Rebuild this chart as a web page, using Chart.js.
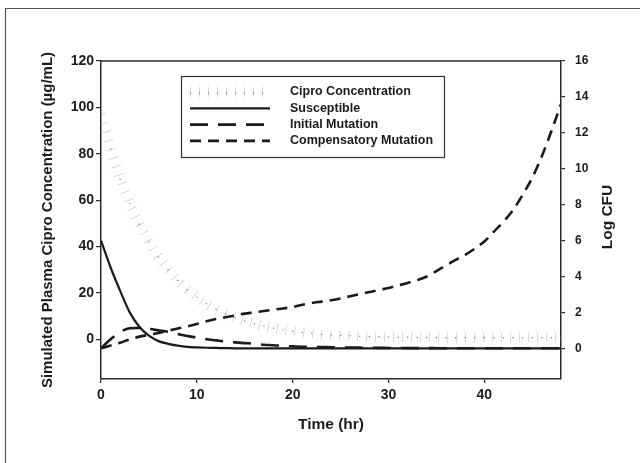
<!DOCTYPE html>
<html>
<head>
<meta charset="utf-8">
<script src="https://cdn.jsdelivr.net/npm/chart.js@4.4.1/dist/chart.umd.min.js"></script>
<style>
  html, body { margin: 0; padding: 0; background: #fff; }
  #wrap { width: 640px; height: 463px; }
</style>
</head>
<body>
<div id="wrap"><canvas id="chart" width="640" height="463"></canvas></div>
<script>
// time points (hr)
const hours = [
  0, 1, 2, 3, 4, 5, 6, 7, 8, 9,
  10, 11, 12, 13, 14, 15, 16, 17, 18, 19,
  20, 21, 22, 23, 24, 25, 26, 27, 28, 29,
  30, 31, 32, 33, 34, 35, 36, 37, 38, 39,
  40, 41, 42, 43, 44, 45, 46, 47, 48
];

// plasma cipro concentration (ug/mL), left axis
const cipro = [
  97, 82, 69, 58.6, 49.6, 42, 35.5, 30, 25.4, 21.5,
  18.2, 15.4, 13, 11, 9.3, 7.9, 6.7, 5.7, 4.8, 4.1,
  3.5, 3, 2.6, 2.2, 1.9, 1.7, 1.5, 1.3, 1.2, 1.1,
  1, 0.9, 0.9, 0.8, 0.8, 0.8, 0.7, 0.7, 0.7, 0.7,
  0.7, 0.7, 0.7, 0.7, 0.7, 0.7, 0.7, 0.7, 0.7
];

// log CFU, right axis
const susceptible = [
  6, 4.5, 3.2, 2.0, 1.2, 0.7, 0.4, 0.25, 0.15, 0.08,
  0.05, 0.03, 0.02, 0.01, 0, 0, 0, 0, 0, 0,
  0, 0, 0, 0, 0, 0, 0, 0, 0, 0,
  0, 0, 0, 0, 0, 0, 0, 0, 0, 0,
  0, 0, 0, 0, 0, 0, 0, 0, 0
];
const initialMutation = [
  0, 0.5, 0.9, 1.12, 1.14, 1.08, 1.0, 0.92, 0.8, 0.68,
  0.6, 0.5, 0.44, 0.38, 0.33, 0.29, 0.25, 0.2, 0.17, 0.13,
  0.11, 0.09, 0.08, 0.07, 0.06, 0.05, 0.04, 0.035, 0.03, 0.025,
  0.02, 0.015, 0.01, 0.01, 0.01, 0.005, 0, 0, 0, 0,
  0, 0, 0, 0, 0, 0, 0, 0, 0
];
const compensatoryMutation = [
  0, 0.15, 0.31, 0.5, 0.65, 0.75, 0.85, 0.98, 1.1, 1.22,
  1.35, 1.5, 1.63, 1.73, 1.83, 1.93, 2.0, 2.08, 2.15, 2.22,
  2.3, 2.42, 2.52, 2.6, 2.68, 2.78, 2.9, 3.02, 3.13, 3.25,
  3.36, 3.5, 3.64, 3.8, 4.0, 4.3, 4.62, 4.92, 5.2, 5.55,
  5.95, 6.5, 7.05, 7.7, 8.55, 9.5, 10.7, 12.1, 13.6
];

// tick labels
const xTicks = [0, 10, 20, 30, 40];
const leftTicks = [0, 20, 40, 60, 80, 100, 120];
const rightTicks = [0, 2, 4, 6, 8, 10, 12, 14, 16];

const seriesNames = ['Cipro Concentration', 'Susceptible', 'Initial Mutation', 'Compensatory Mutation'];
const leftTitle = 'Simulated Plasma Cipro Concentration (\u00b5g/mL)';
const rightTitle = 'Log CFU';
const xTitle = 'Time (hr)';

const INK = '#1b1b1b';
const AXIS = '#2a2a2a';
const FONT = "'Liberation Sans', Arial, sans-serif";

function pts(ys) {
  return hours.map((h, i) => ({ x: h, y: ys[i] }));
}

// frame, top border, right title and the legend box
const extras = {
  id: 'extras',
  beforeDraw(chart) {
    const ctx = chart.ctx;
    ctx.save();
    ctx.fillStyle = '#fff';
    ctx.fillRect(0, 0, chart.width, chart.height);
    ctx.strokeStyle = '#555';
    ctx.lineWidth = 1.2;
    ctx.beginPath();
    ctx.moveTo(5.5, chart.height);
    ctx.lineTo(5.5, 8.5);
    ctx.lineTo(chart.width, 8.5);
    ctx.stroke();
    ctx.restore();
  },
  afterDraw(chart) {
    const ctx = chart.ctx;
    const a = chart.chartArea;
    ctx.save();
    // top edge of plot box
    ctx.strokeStyle = AXIS;
    ctx.lineWidth = 1.5;
    ctx.beginPath();
    ctx.moveTo(a.left, a.top);
    ctx.lineTo(a.right, a.top);
    ctx.stroke();

    // right axis title, reads bottom to top
    ctx.fillStyle = INK;
    ctx.font = 'bold 15.5px ' + FONT;
    ctx.textAlign = 'center';
    ctx.textBaseline = 'middle';
    ctx.translate(608, 217);
    ctx.rotate(-Math.PI / 2);
    ctx.fillText(rightTitle, 0, 0);
    ctx.restore();

    // legend
    ctx.save();
    const bx = 181.5, by = 76.5, bw = 263, bh = 81;
    ctx.strokeStyle = '#333';
    ctx.lineWidth = 1.2;
    ctx.strokeRect(bx, by, bw, bh);
    ctx.font = 'bold 12.5px ' + FONT;
    ctx.textAlign = 'left';
    ctx.textBaseline = 'middle';
    chart.data.datasets.forEach((ds, i) => {
      const y = 92 + i * 16.3;
      ctx.save();
      ctx.strokeStyle = ds.borderColor;
      ctx.lineWidth = ds.borderWidth;
      ctx.setLineDash(ds.borderDash || []);
      ctx.beginPath();
      ctx.moveTo(190, y);
      ctx.lineTo(270, y);
      ctx.stroke();
      if (ds.pointRadius) {
        ctx.fillStyle = ds.pointBackgroundColor;
        for (let x = 190.5; x < 270; x += 9) {
          ctx.beginPath();
          ctx.arc(x, y + 1, ds.pointRadius, 0, Math.PI * 2);
          ctx.fill();
        }
      }
      ctx.restore();
      ctx.fillStyle = INK;
      ctx.fillText(ds.label, 290, y);
    });
    ctx.restore();
  }
};

new Chart(document.getElementById('chart'), {
  type: 'line',
  data: {
    datasets: [
      {
        label: seriesNames[0],
        data: pts(cipro),
        yAxisID: 'y',
        borderColor: '#cfcfcf',
        borderWidth: 10,
        borderDash: [0.8, 8.2],
        borderCapStyle: 'butt',
        pointRadius: 0.7,
        pointBackgroundColor: '#777',
        pointBorderWidth: 0,
        tension: 0,
        order: 1
      },
      {
        label: seriesNames[1],
        data: pts(susceptible),
        yAxisID: 'y1',
        borderColor: INK,
        borderWidth: 2.2,
        pointRadius: 0,
        cubicInterpolationMode: 'monotone',
        order: 0
      },
      {
        label: seriesNames[2],
        data: pts(initialMutation),
        yAxisID: 'y1',
        borderColor: INK,
        borderWidth: 2.6,
        borderDash: [18, 10],
        pointRadius: 0,
        cubicInterpolationMode: 'monotone',
        order: 0
      },
      {
        label: seriesNames[3],
        data: pts(compensatoryMutation),
        yAxisID: 'y1',
        borderColor: INK,
        borderWidth: 2.6,
        borderDash: [11, 7],
        pointRadius: 0,
        cubicInterpolationMode: 'monotone',
        order: 0
      }
    ]
  },
  options: {
    responsive: false,
    animation: false,
    devicePixelRatio: 1,
    layout: { padding: { left: 5, top: 61, right: 0, bottom: 0 } },
    plugins: { legend: { display: false }, tooltip: { enabled: false } },
    scales: {
      x: {
        type: 'linear',
        min: 0,
        max: 48,
        afterBuildTicks: s => { s.ticks = xTicks.map(v => ({ value: v })); },
        afterFit: s => { s.height = 84; },
        grid: { display: true, drawOnChartArea: false, drawTicks: true, tickLength: 4, color: AXIS, lineWidth: 1.2 },
        border: { display: true, color: AXIS, width: 1.5 },
        ticks: { color: INK, font: { family: FONT, size: 14, weight: 'bold' }, padding: 4, maxRotation: 0 },
        title: { display: true, text: xTitle, color: INK, font: { family: FONT, size: 15.5, weight: 'bold' }, padding: { top: 0, bottom: 29 } }
      },
      y: {
        position: 'left',
        min: -17.1,
        max: 120,
        afterBuildTicks: s => { s.ticks = leftTicks.map(v => ({ value: v })); },
        afterFit: s => { s.width = 96; },
        grid: { display: true, drawOnChartArea: false, drawTicks: true, tickLength: 5, color: AXIS, lineWidth: 1.2 },
        border: { display: true, color: AXIS, width: 1.5 },
        ticks: { color: INK, font: { family: FONT, size: 14, weight: 'bold' }, padding: 2 },
        title: { display: true, text: leftTitle, color: INK, font: { family: FONT, size: 15, weight: 'bold' }, padding: { top: 34, bottom: 0 } }
      },
      y1: {
        position: 'right',
        min: -1.71,
        max: 16,
        afterBuildTicks: s => { s.ticks = rightTicks.map(v => ({ value: v })); },
        afterFit: s => { s.width = 79; },
        grid: { display: true, drawOnChartArea: false, drawTicks: true, tickLength: 4, color: AXIS, lineWidth: 1.2 },
        border: { display: true, color: AXIS, width: 1.5 },
        ticks: { color: INK, font: { family: FONT, size: 12, weight: 'bold' }, padding: 10 },
        title: { display: false }
      }
    }
  },
  plugins: [extras]
});
</script>
</body>
</html>
